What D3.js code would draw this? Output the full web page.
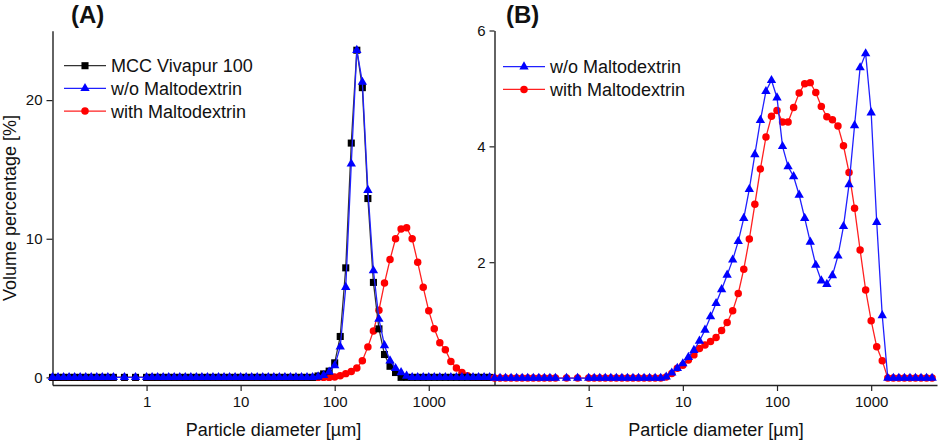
<!DOCTYPE html>
<html>
<head>
<meta charset="utf-8">
<script src="https://cdn.jsdelivr.net/npm/d3@7"></script>
<style>
  body { margin: 0; background: #fff; }
  text { font-family: "Liberation Sans", Arial, sans-serif; }
</style>
</head>
<body>
<div id="chart"></div>
<script>
// particle size classes [um] (shared by all measurements)
var sizes = [0.1, 0.1145, 0.1311, 0.1501, 0.1719, 0.1968, 0.2254, 0.2581, 0.2955, 0.3384, 0.3875, 0.4437, 0.5818, 0.7629,
  1, 1.145, 1.311, 1.501, 1.719, 1.968, 2.254, 2.581, 2.955, 3.384, 3.875, 4.437, 5.081, 5.818, 6.662, 7.629, 8.736,
  10, 11.45, 13.11, 15.01, 17.19, 19.68, 22.54, 25.81, 29.55, 33.84, 38.75, 44.37, 50.81, 58.18, 66.62, 76.29, 87.36,
  100, 114.5, 131.1, 150.1, 171.9, 196.8, 225.4, 258.1, 295.5, 338.4, 387.5, 443.7, 508.1, 581.8, 666.2, 762.9, 873.6,
  1000, 1145, 1311, 1501, 1719, 1968, 2254, 2581, 2955, 3384, 3875, 4437];

// panel A
var mccA = [0,0,0,0,0,0,0,0,0,0,0,0,0,0,
  0,0,0,0,0,0,0,0,0,0,0,0,0,0,0,0,0,
  0,0,0,0,0,0,0,0,0,0,0,0,0,0,0.1,0.25,0.45,
  1.05,2.95,7.9,16.9,23.6,20.9,12.9,6.85,3.5,1.65,0.8,0.35,0,0,0,0,0,
  0,0,0,0,0,0,0,0,0,0,0,0];
var woA = [0,0,0,0,0,0,0,0,0,0,0,0,0,0,
  0,0,0,0,0,0,0,0,0,0,0,0,0,0,0,0,0,
  0,0,0,0,0,0,0,0,0,0,0,0,0,0,0.05,0.15,0.4,
  0.85,2.2,6.5,15.4,23.6,21.3,13.5,7.7,4.2,2.3,1.2,0.65,0.35,0.1,0,0,0,
  0,0,0,0,0,0,0,0,0,0,0,0];
var withA = [0,0,0,0,0,0,0,0,0,0,0,0,0,0,
  0,0,0,0,0,0,0,0,0,0,0,0,0,0,0,0,0,
  0,0,0,0,0,0,0,0,0,0,0,0,0,0,0,0,0,
  0.03,0.12,0.27,0.43,0.67,1.2,2.2,3.35,4.85,6.8,8.5,10.0,10.7,10.8,10.0,8.3,6.5,
  4.8,3.5,2.5,2.0,1.15,0.67,0.35,0.12,0,0,0,0];

// panel B
var woB = [0,0,0,0,0,0,0,0,0,0,0,0,0,0,
  0,0,0,0,0,0,0,0,0,0,0,0,0,0,0.02,0.09,0.17,
  0.25,0.36,0.48,0.64,0.83,1.06,1.29,1.53,1.78,2.04,2.36,2.76,3.26,3.86,4.45,4.95,5.14,
  4.84,4.0,3.65,3.48,3.16,2.76,2.35,1.95,1.68,1.62,1.77,2.11,2.62,3.34,4.36,5.36,5.60,
  4.58,2.69,1.08,0,0,0,0,0,0,0,0,0];
var withB = [0,0,0,0,0,0,0,0,0,0,0,0,0,0,
  0,0,0,0,0,0,0,0,0,0,0,0,0,0,0.02,0.08,0.17,
  0.22,0.31,0.40,0.51,0.57,0.63,0.70,0.82,0.96,1.16,1.46,1.88,2.40,3.0,3.61,4.16,4.52,
  4.62,4.42,4.42,4.67,4.92,5.08,5.10,4.93,4.69,4.51,4.46,4.35,4.01,3.55,2.93,2.21,1.52,
  0.99,0.54,0.30,0,0,0,0,0,0,0,0,0];

var xMajor = [1, 10, 100, 1000];
var xMinor = [2,3,4,5,6,7,8,9, 20,30,40,50,60,70,80,90, 200,300,400,500,600,700,800,900, 2000,3000,4000,5000];
var yMajorA = [0, 10, 20], yMinorA = [5, 15, 25];
var yMajorB = [2, 4, 6], yMinorB = [1, 3, 5];

var svg = d3.select("#chart").append("svg")
    .attr("width", 941)
    .attr("height", 445);

var xA = d3.scaleLog().domain([0.1, 5000]).range([52.5, 494.5]);
var yA = d3.scaleLinear().domain([-0.55, 25]).range([385, 30.8]);
var xB = d3.scaleLog().domain([0.1, 5000]).range([494.5, 937]);
var yB = d3.scaleLinear().domain([-0.12, 6]).range([385, 30.5]);

function drawAxes(x, y, yMajor, yMinor, ytick) {
    var x0 = x.range()[0];
    var bottom = y.range()[0];
    var gx = svg.append("g").attr("transform", "translate(0," + bottom + ")");
    gx.call(d3.axisBottom(x).tickValues(xMinor).tickSize(3).tickSizeOuter(0).tickFormat(""));
    gx.call(d3.axisBottom(x).tickValues(xMajor).tickSize(6).tickSizeOuter(0).tickPadding(5)
        .tickFormat(d3.format("d")));
    var gy = svg.append("g").attr("transform", "translate(" + x0 + ",0)");
    gy.call(d3.axisLeft(y).tickValues(yMinor).tickSize(3).tickSizeOuter(0).tickFormat(""));
    gy.call(d3.axisLeft(y).tickValues(yMajor).tickSize(ytick).tickSizeOuter(0).tickPadding(4)
        .tickFormat(d3.format("d")));
    svg.selectAll(".domain").attr("stroke", "#222").attr("stroke-width", 1.4);
    svg.selectAll(".tick line").attr("stroke", "#222").attr("stroke-width", 1.2);
    svg.selectAll(".tick text").attr("font-size", "15px").attr("fill", "#111")
        .attr("font-family", "Liberation Sans, Arial, sans-serif");
}

drawAxes(xA, yA, yMajorA, yMinorA, 6);
drawAxes(xB, yB, yMajorB, yMinorB, 5);

function drawSeries(x, y, vals, color, lineColor, shape) {
    var pts = sizes.map(function(s, i) { return [x(s), y(vals[i])]; });
    svg.append("path")
        .attr("d", d3.line()(pts))
        .attr("fill", "none")
        .attr("stroke", lineColor)
        .attr("stroke-width", 1.3);
    svg.append("g").selectAll("path")
        .data(pts)
        .enter().append("path")
        .attr("transform", function(d) { return "translate(" + d[0] + "," + d[1] + ")"; })
        .attr("d", shape)
        .attr("fill", color);
}

var square = d3.symbol().type(d3.symbolSquare).size(50)();
var triangle = d3.symbol().type(d3.symbolTriangle).size(38)();
var circle = d3.symbol().type(d3.symbolCircle).size(44)();

drawSeries(xA, yA, withA, "#ff0000", "#ff2020", circle);
drawSeries(xA, yA, mccA, "#000000", "#333333", square);
drawSeries(xA, yA, woA, "#0000ff", "#2020ff", triangle);

drawSeries(xB, yB, withB, "#ff0000", "#ff2020", circle);
drawSeries(xB, yB, woB, "#0000ff", "#2020ff", triangle);

// legends
function legend(x0, y0, items) {
    items.forEach(function(it, i) {
        var yy = y0 + i * 22.7;
        svg.append("line")
            .attr("x1", x0).attr("x2", x0 + 42)
            .attr("y1", yy).attr("y2", yy)
            .attr("stroke", it.line).attr("stroke-width", 1.3);
        svg.append("path")
            .attr("transform", "translate(" + (x0 + 21) + "," + yy + ")")
            .attr("d", it.shape)
            .attr("fill", it.color);
        svg.append("text")
            .attr("x", x0 + 47)
            .attr("y", yy + 6.5)
            .attr("font-size", "18px")
            .attr("fill", "#111")
            .text(it.label);
    });
}

legend(64, 65.7, [
    {label: "MCC Vivapur 100", color: "#000000", line: "#333333", shape: square},
    {label: "w/o Maltodextrin", color: "#0000ff", line: "#2020ff", shape: triangle},
    {label: "with Maltodextrin", color: "#ff0000", line: "#ff2020", shape: circle}
]);
legend(503, 66.7, [
    {label: "w/o Maltodextrin", color: "#0000ff", line: "#2020ff", shape: triangle},
    {label: "with Maltodextrin", color: "#ff0000", line: "#ff2020", shape: circle}
]);

// panel letters
svg.append("text").attr("x", 71).attr("y", 23).attr("font-size", "24px")
    .attr("font-weight", "bold").attr("fill", "#111").text("(A)");
svg.append("text").attr("x", 506).attr("y", 23).attr("font-size", "24px")
    .attr("font-weight", "bold").attr("fill", "#111").text("(B)");

// axis titles
svg.append("text").attr("x", 273.5).attr("y", 436).attr("text-anchor", "middle")
    .attr("font-size", "18px").attr("fill", "#111").text("Particle diameter [µm]");
svg.append("text").attr("x", 716).attr("y", 436).attr("text-anchor", "middle")
    .attr("font-size", "18px").attr("fill", "#111").text("Particle diameter [µm]");
svg.append("text").attr("transform", "translate(16,208) rotate(-90)").attr("text-anchor", "middle")
    .attr("font-size", "18px").attr("fill", "#111").text("Volume percentage [%]");
</script>
</body>
</html>
